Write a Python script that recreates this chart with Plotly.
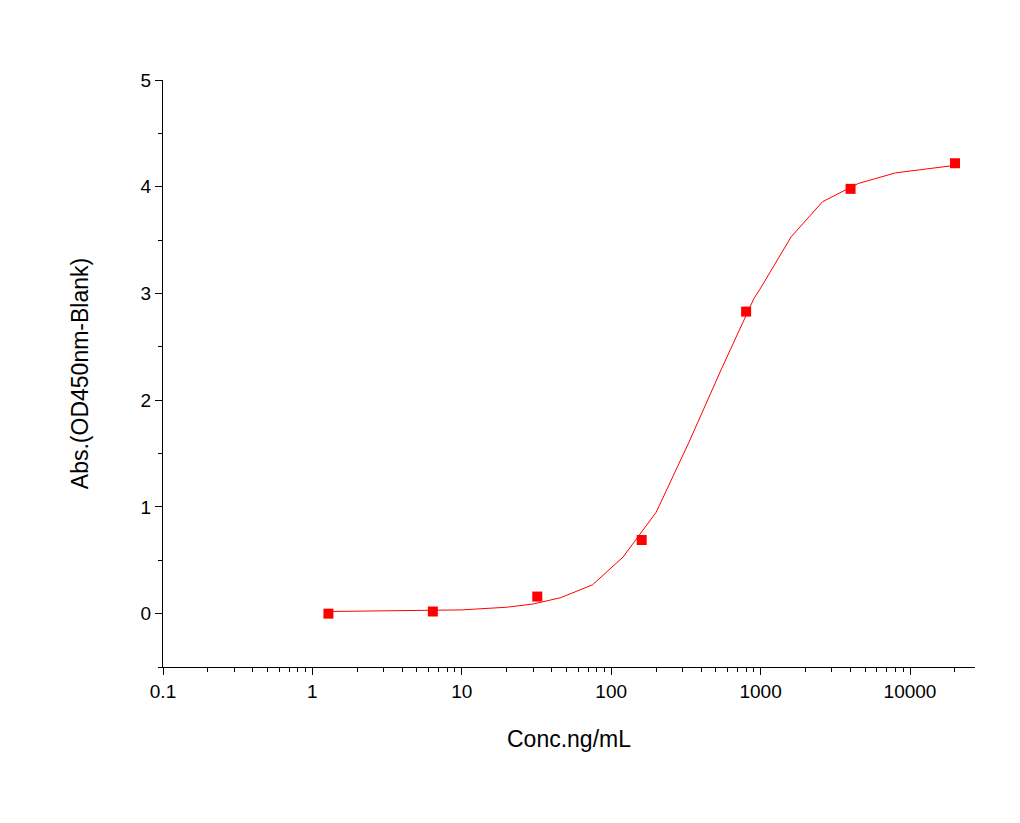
import plotly.graph_objects as go

conc = [1.28, 6.4, 32, 160, 800, 4000, 20000]
od = [0.0, 0.02, 0.16, 0.69, 2.83, 3.98, 4.22]

curve_x = [1.28, 3, 10, 20, 30, 46, 75, 120, 200, 330, 550, 900, 1000, 1600, 2600, 4500, 8000, 20000]
curve_y = [0.02, 0.025, 0.035, 0.06, 0.09, 0.15, 0.27, 0.53, 0.95, 1.6, 2.3, 2.95, 3.05, 3.53, 3.86, 4.03, 4.13, 4.2]

fig = go.Figure()
fig.add_trace(go.Scatter(x=curve_x, y=curve_y, mode="lines", line=dict(color="#ff0000", width=1), hoverinfo="skip"))
fig.add_trace(go.Scatter(x=conc, y=od, mode="markers", marker=dict(symbol="square", size=10, color="#ff0000")))

fig.update_layout(
    width=1020, height=823, showlegend=False,
    plot_bgcolor="white", paper_bgcolor="white",
    margin=dict(l=155, r=53, t=72, b=164),
    font=dict(family="Arial, Liberation Sans", size=19, color="black"),
)
fig.update_xaxes(type="log", range=[-1, 4.435], showline=True, linecolor="black", linewidth=1,
                 ticks="outside", ticklen=7, tickcolor="black", showgrid=False, zeroline=False,
                 tickvals=[0.1, 1, 10, 100, 1000, 10000], ticktext=["0.1", "1", "10", "100", "1000", "10000"],
                 minor=dict(ticks="outside", ticklen=4, tickcolor="black", dtick="D1", showgrid=False),
                 title=dict(text="Conc.ng/mL", font=dict(size=23), standoff=30))
fig.update_yaxes(range=[-0.5, 5], showline=True, linecolor="black", linewidth=1,
                 ticks="outside", ticklen=7, tickcolor="black", showgrid=False, zeroline=False,
                 tickvals=[0, 1, 2, 3, 4, 5],
                 minor=dict(ticks="outside", ticklen=4, tickcolor="black", dtick=0.5, showgrid=False),
                 title=dict(text="Abs.(OD450nm-Blank)", font=dict(size=23), standoff=45))
fig.write_html("out.html")
